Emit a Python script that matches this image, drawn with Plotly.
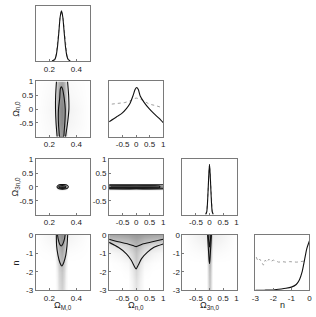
import plotly.graph_objects as go

W, H = 316, 317

# ---------------- data ----------------
# 1D marginals: solid = marginalised posterior, dotted = mean likelihood
om_x = [0.22, 0.24, 0.25, 0.26, 0.27, 0.28, 0.29, 0.30, 0.31, 0.32, 0.33, 0.34, 0.355]
om_post = [0.0, 0.03, 0.10, 0.27, 0.55, 0.87, 1.0, 0.87, 0.57, 0.28, 0.10, 0.03, 0.0]
om_like = [0.0, 0.04, 0.12, 0.30, 0.58, 0.88, 1.0, 0.90, 0.60, 0.32, 0.12, 0.04, 0.0]

on_x = [-1.0, -0.72, -0.54, -0.36, -0.24, -0.12, -0.04, 0.02, 0.08, 0.15, 0.30, 0.48, 0.66, 0.84, 1.0]
on_post = [0.30, 0.40, 0.46, 0.56, 0.65, 0.81, 0.94, 0.98, 0.94, 0.81, 0.68, 0.56, 0.46, 0.37, 0.28]
on_like_x = [-0.9, -0.66, -0.42, -0.24, -0.12, 0.0, 0.15, 0.30, 0.48, 0.72, 0.9]
on_like = [0.65, 0.66, 0.68, 0.71, 0.75, 0.77, 0.75, 0.71, 0.65, 0.62, 0.59]

o3_x = [-0.14, -0.1, -0.075, -0.05, -0.025, 0.0, 0.025, 0.05, 0.075, 0.1, 0.14]
o3_post = [0.0, 0.06, 0.22, 0.50, 0.80, 1.0, 0.80, 0.50, 0.22, 0.06, 0.0]
o3_like = [0.0, 0.07, 0.24, 0.52, 0.82, 1.0, 0.82, 0.52, 0.24, 0.07, 0.0]

n_x = [-3.0, -2.5, -2.0, -1.56, -1.3, -1.0, -0.73, -0.55, -0.4, -0.27, -0.15, 0.0]
n_post = [0.0, 0.003, 0.008, 0.026, 0.04, 0.064, 0.116, 0.21, 0.37, 0.60, 0.82, 0.98]
n_like_x = [-2.95, -2.85, -2.75, -2.65, -2.55, -2.45, -2.35, -2.25, -2.15, -2.0, -1.85,
            -1.7, -1.5, -1.3, -1.1, -0.9, -0.7, -0.5, -0.3]
n_like = [0.66, 0.58, 0.62, 0.55, 0.50, 0.60, 0.56, 0.62, 0.57, 0.60, 0.58,
          0.56, 0.57, 0.56, 0.57, 0.56, 0.56, 0.57, 0.58]

# 2D sample densities (coarse grids)
d21_x = [0.10, 0.24, 0.255, 0.27, 0.29, 0.31, 0.325, 0.34, 0.50]
d21_y = [-1, -0.5, 0, 0.5, 1]
d21_z = [[0, 0.02, 0.16, 0.32, 0.40, 0.32, 0.15, 0.02, 0],
         [0, 0.03, 0.24, 0.40, 0.46, 0.40, 0.24, 0.04, 0],
         [0, 0.04, 0.26, 0.42, 0.48, 0.42, 0.27, 0.05, 0],
         [0, 0.03, 0.24, 0.38, 0.44, 0.38, 0.22, 0.03, 0],
         [0, 0.02, 0.18, 0.30, 0.36, 0.30, 0.16, 0.02, 0]]

d31_x = [0.10, 0.25, 0.265, 0.28, 0.295, 0.31, 0.325, 0.34, 0.50]
d31_y = [-1, -0.12, -0.07, -0.035, 0, 0.035, 0.07, 0.12, 1]
d31_z = [[0, 0, 0, 0, 0, 0, 0, 0, 0],
         [0, 0, 0, 0, 0, 0, 0, 0, 0],
         [0, 0, 0.05, 0.2, 0.3, 0.2, 0.05, 0, 0],
         [0, 0, 0.2, 0.6, 0.75, 0.65, 0.25, 0, 0],
         [0, 0, 0.3, 0.75, 0.9, 0.8, 0.4, 0, 0],
         [0, 0, 0.2, 0.6, 0.75, 0.65, 0.25, 0, 0],
         [0, 0, 0.05, 0.2, 0.3, 0.2, 0.05, 0, 0],
         [0, 0, 0, 0, 0, 0, 0, 0, 0],
         [0, 0, 0, 0, 0, 0, 0, 0, 0]]

d32_x = [-1, -0.5, 0, 0.5, 1]
d32_y = [-1, -0.12, -0.07, -0.035, 0, 0.035, 0.07, 0.12, 1]
d32_z = [[0, 0, 0, 0, 0],
         [0, 0, 0, 0, 0],
         [0.25, 0.25, 0.25, 0.25, 0.2],
         [0.6, 0.6, 0.6, 0.6, 0.45],
         [0.8, 0.8, 0.8, 0.8, 0.5],
         [0.6, 0.6, 0.6, 0.6, 0.45],
         [0.25, 0.25, 0.25, 0.25, 0.2],
         [0, 0, 0, 0, 0],
         [0, 0, 0, 0, 0]]

d41_x = [0.10, 0.24, 0.255, 0.27, 0.29, 0.31, 0.325, 0.34, 0.50]
d41_y = [-3, -2.5, -2, -1.5, -1, -0.5, 0]
d41_z = [[0, 0, 0.03, 0.12, 0.18, 0.12, 0.03, 0, 0],
         [0, 0, 0.04, 0.14, 0.20, 0.14, 0.04, 0, 0],
         [0, 0, 0.05, 0.16, 0.22, 0.16, 0.05, 0, 0],
         [0, 0, 0.08, 0.20, 0.28, 0.20, 0.08, 0, 0],
         [0, 0.01, 0.12, 0.26, 0.33, 0.26, 0.12, 0.01, 0],
         [0, 0.03, 0.18, 0.33, 0.40, 0.33, 0.18, 0.03, 0],
         [0, 0.05, 0.25, 0.40, 0.45, 0.40, 0.25, 0.05, 0]]

d42_x = [-1, -0.6, -0.3, -0.15, 0, 0.15, 0.3, 0.6, 1]
d42_y = [-3, -2.5, -2, -1.5, -1, -0.6, -0.3, 0]
d42_z = [[0, 0, 0, 0.04, 0.10, 0.04, 0, 0, 0],
         [0, 0, 0, 0.05, 0.12, 0.05, 0, 0, 0],
         [0, 0, 0.01, 0.07, 0.15, 0.07, 0.01, 0, 0],
         [0, 0.01, 0.03, 0.10, 0.20, 0.10, 0.03, 0.01, 0],
         [0.02, 0.05, 0.10, 0.16, 0.24, 0.16, 0.10, 0.05, 0.02],
         [0.08, 0.12, 0.17, 0.23, 0.29, 0.23, 0.17, 0.12, 0.08],
         [0.22, 0.24, 0.26, 0.30, 0.33, 0.30, 0.26, 0.24, 0.22],
         [0.34, 0.35, 0.37, 0.39, 0.40, 0.39, 0.37, 0.35, 0.34]]

d43_x = [-1, -0.1, -0.05, 0, 0.05, 0.1, 1]
d43_y = [-3, -2, -1.5, -1, -0.5, 0]
d43_z = [[0, 0, 0.15, 0.25, 0.15, 0, 0],
         [0, 0, 0.18, 0.28, 0.18, 0, 0],
         [0, 0, 0.22, 0.35, 0.22, 0, 0],
         [0, 0.02, 0.30, 0.45, 0.30, 0.02, 0],
         [0, 0.05, 0.40, 0.55, 0.40, 0.05, 0],
         [0, 0.08, 0.50, 0.60, 0.50, 0.08, 0]]

# contour lines (68% inner, 95% outer), None separates pieces
c21_x = [0.253, 0.247, 0.246, 0.25, 0.258, None,
         0.335, 0.343, 0.345, 0.335, 0.32, None,
         0.289, 0.297, 0.31, 0.318, 0.316, 0.31, 0.305, 0.277, 0.272, 0.267, 0.268, 0.277, 0.282, 0.289]
c21_y = [1, 0.5, 0, -0.5, -1, None,
         1, 0.5, 0, -0.5, -1, None,
         0.81, 0.74, 0.4, 0.0, -0.4, -0.8, -1, -1, -0.8, -0.4, 0.0, 0.4, 0.74, 0.81]

c31_x = [0.257, 0.265, 0.285, 0.31, 0.333, 0.341, 0.333, 0.31, 0.285, 0.265, 0.257, None,
         0.269, 0.277, 0.296, 0.316, 0.324, 0.316, 0.296, 0.277, 0.269]
c31_y = [0, 0.055, 0.08, 0.08, 0.055, 0, -0.055, -0.08, -0.08, -0.055, 0, None,
         0, 0.035, 0.045, 0.035, 0, -0.035, -0.045, -0.035, 0]

c32_x = [-1, -0.5, 0, 0.5, 1, None, -1, -0.5, 0, 0.5, 1, None,
         -1, -0.5, 0, 0.5, 0.85, 0.88, 0.85, 0.5, 0, -0.5, -1]
c32_y = [0.075, 0.07, 0.075, 0.07, 0.075, None, -0.07, -0.075, -0.07, -0.075, -0.07, None,
         0.035, 0.035, 0.035, 0.035, 0.03, 0, -0.03, -0.035, -0.035, -0.035, -0.035]

c41_x = [0.252, 0.254, 0.264, 0.278, 0.293, 0.307, 0.322, 0.331, 0.336, None,
         0.261, 0.266, 0.276, 0.288, 0.300, 0.312, 0.317]
c41_y = [0, -0.58, -1.09, -1.49, -1.68, -1.49, -1.09, -0.58, 0, None,
         0, -0.23, -0.49, -0.6, -0.49, -0.23, 0]

c42_x = [-1, -0.66, -0.3, -0.06, 0, 0.24, 0.6, 1, None,
         -1, -0.66, -0.36, -0.18, -0.06, 0, 0.08, 0.2, 0.42, 0.66, 1]
c42_y = [-0.23, -0.37, -0.49, -0.61, -0.63, -0.49, -0.37, -0.23, None,
         -0.40, -0.67, -1.02, -1.37, -1.72, -1.84, -1.63, -1.28, -0.93, -0.67, -0.49]

c43_x = [-0.07, -0.055, -0.035, -0.015, 0, 0.015, 0.035, 0.055, 0.07, None,
         -0.05, -0.035, -0.015, 0, 0.015, 0.035, 0.05]
c43_y = [0, -0.4, -0.9, -1.35, -1.55, -1.35, -0.9, -0.4, 0, None,
         0, -0.25, -0.5, -0.65, -0.5, -0.25, 0]

# axes: variable ranges and tick labels
var_range = [[0.1, 0.5], [-1, 1], [-1, 1], [-3, 0]]
var_ticks = [[0.2, 0.4], [-0.5, 0, 0.5, 1], [-0.5, 0, 0.5, 1], [-3, -2, -1, 0]]
var_ticktext = [["0.2", "0.4"], ["-0.5", "0", "0.5", "1"], ["-0.5", "0", "0.5", "1"],
                ["-3", "-2", "-1", "0"]]
var_labels = ["Ω<sub>M,0</sub>", "Ω<sub>n,0</sub>", "Ω<sub>3n,0</sub>", "n"]

# ---------------- layout geometry ----------------
col_left = [32.5, 107.5, 182.5, 257.0]
col_w = 55.3
row_top = [1.7, 79.7, 159.7, 237.7]
row_h = 57.0

FONT = "Liberation Sans, Arial, sans-serif"
FRAME = "#7a7a7a"
GRAYS = [[0, "#ffffff"], [1, "#000000"]]

fig = go.Figure()
layout = dict(width=W, height=H, margin=dict(l=0, r=0, t=0, b=0),
              paper_bgcolor="white", plot_bgcolor="white", showlegend=False,
              font=dict(family=FONT, size=8, color="#222222"))

diag1d = {
    0: (om_x, om_post, om_x, om_like),
    1: (on_x, on_post, on_like_x, on_like),
    2: (o3_x, o3_post, o3_x, o3_like),
    3: (n_x, n_post, n_like_x, n_like),
}
dens = {
    (1, 0): (d21_x, d21_y, d21_z, c21_x, c21_y),
    (2, 0): (d31_x, d31_y, d31_z, c31_x, c31_y),
    (2, 1): (d32_x, d32_y, d32_z, c32_x, c32_y),
    (3, 0): (d41_x, d41_y, d41_z, c41_x, c41_y),
    (3, 1): (d42_x, d42_y, d42_z, c42_x, c42_y),
    (3, 2): (d43_x, d43_y, d43_z, c43_x, c43_y),
}

k = 0
for r in range(4):
    for c in range(r + 1):
        k += 1
        xa = "x" if k == 1 else f"x{k}"
        ya = "y" if k == 1 else f"y{k}"
        xkey = "xaxis" if k == 1 else f"xaxis{k}"
        ykey = "yaxis" if k == 1 else f"yaxis{k}"
        x0 = col_left[c] / W
        x1 = (col_left[c] + col_w) / W
        y1 = 1 - row_top[r] / H
        y0 = 1 - (row_top[r] + row_h) / H
        common = dict(showline=True, mirror=True, linecolor=FRAME, linewidth=1,
                      showgrid=False, zeroline=False, ticklen=2,
                      tickcolor=FRAME, tickfont=dict(family=FONT, size=8, color="#222"))
        layout[xkey] = dict(domain=[x0, x1], anchor=ya, range=var_range[c],
                            tickmode="array", tickvals=var_ticks[c], ticks="inside",
                            ticktext=var_ticktext[c], **common)
        if r == c:
            layout[ykey] = dict(domain=[y0, y1], anchor=xa, range=[0, 1.1],
                                showticklabels=False, ticks="", **common)
            vx, vp, lx, lv = diag1d[c]
            fig.add_trace(go.Scatter(x=lx, y=lv, mode="lines", xaxis=xa, yaxis=ya,
                                     line=dict(color="#a0a0a0", width=1, dash="dot")))
            fig.add_trace(go.Scatter(x=vx, y=vp, mode="lines", xaxis=xa, yaxis=ya,
                                     line=dict(color="#111111", width=1.1, shape="spline",
                                               smoothing=0.6)))
        else:
            layout[ykey] = dict(domain=[y0, y1], anchor=xa, range=var_range[r],
                                tickmode="array", tickvals=var_ticks[r], ticks="inside",
                                ticktext=var_ticktext[r], **common)
            gx, gy, gz, cx, cy = dens[(r, c)]
            fig.add_trace(go.Heatmap(x=gx, y=gy, z=gz, xaxis=xa, yaxis=ya,
                                     colorscale=GRAYS, zmin=0, zmax=1, zsmooth="best",
                                     showscale=False, hoverinfo="skip"))
            fig.add_trace(go.Scatter(x=cx, y=cy, mode="lines", xaxis=xa, yaxis=ya,
                                     connectgaps=False,
                                     line=dict(color="#111111", width=1.1, shape="spline",
                                               smoothing=0.6)))

ann = []
for c in range(4):
    ann.append(dict(text=var_labels[c], xref="paper", yref="paper",
                    x=(col_left[c] + col_w / 2) / W, y=1 - 310 / H,
                    showarrow=False, font=dict(family=FONT, size=9, color="#222"),
                    xanchor="center", yanchor="middle"))
for r in range(1, 4):
    ann.append(dict(text=var_labels[r], xref="paper", yref="paper",
                    x=12 / W, y=1 - (row_top[r] + row_h / 2) / H, textangle=-90,
                    showarrow=False, font=dict(family=FONT, size=9, color="#222"),
                    xanchor="center", yanchor="middle"))
layout["annotations"] = ann

fig.update_layout(**layout)
fig.write_html("out.html", config={"displayModeBar": False},
               post_script="document.body.style.margin='0px';document.body.style.overflow='hidden';")
